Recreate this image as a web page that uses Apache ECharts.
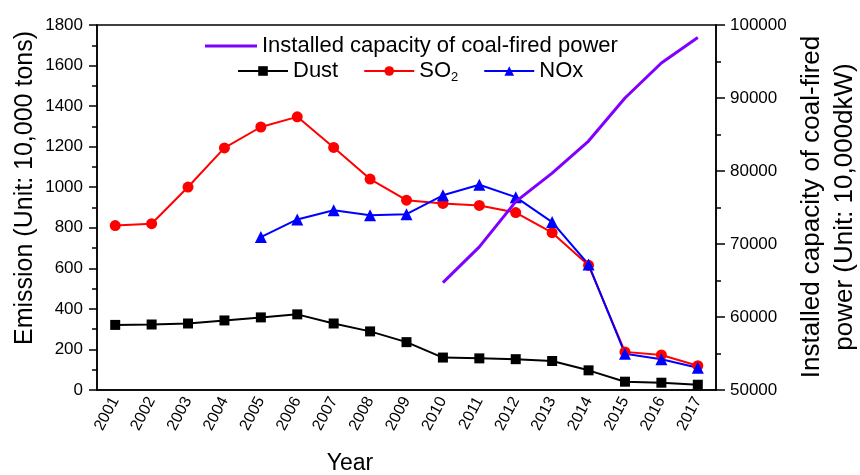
<!DOCTYPE html>
<html>
<head>
<meta charset="utf-8">
<script src="https://cdn.jsdelivr.net/npm/echarts@6/dist/echarts.min.js"></script>
<style>html,body{margin:0;padding:0;background:#fff}#c{width:860px;height:475px}</style>
</head>
<body>
<div id="c"></div>
<script>
const years = ['2001','2002','2003','2004','2005','2006','2007','2008','2009','2010','2011','2012','2013','2014','2015','2016','2017'];
const dust = [321, 323, 328, 343, 358, 373, 328, 289, 236, 160, 156, 152, 143, 97, 41, 36, 26];
const so2 = [811, 820, 1001, 1194, 1297, 1347, 1196, 1040, 936, 920, 910, 875, 776, 615, 188, 173, 120];
const nox = [null, null, null, null, 754, 841, 886, 862, 867, 960, 1012, 951, 828, 619, 179, 152, 110];
const capacity = [null, null, null, null, null, null, null, null, null, 64700, 69600, 75800, 79700, 84100, 90000, 94800, 98300];
const leftTicks = {min: 0, max: 1800, interval: 200};
const rightTicks = {min: 50000, max: 100000, interval: 10000};

const FONT = "'Liberation Sans', Arial, sans-serif";
const chart = echarts.init(document.getElementById('c'), null, {renderer: 'canvas'});
const axisLine = {show: true, lineStyle: {color: '#000', width: 1.5}};
const plain = function (v) { return String(v); };
chart.setOption({
  animation: false,
  backgroundColor: '#fff',
  textStyle: {fontFamily: FONT},
  grid: {left: 97, right: 144, top: 25, bottom: 85, show: true, borderColor: '#000', borderWidth: 1.5, backgroundColor: 'transparent'},
  legend: [
    {data: [{name: 'Installed capacity of coal-fired power', icon: 'rect'}], left: 200, top: 30, itemWidth: 52, itemHeight: 3,
     textStyle: {fontSize: 22, color: '#000', fontFamily: FONT}},
    {data: ['Dust', 'SO2', 'NOx'], left: 232, top: 55, itemGap: 25, itemWidth: 50, itemHeight: 12,
     formatter: function (n) { return n === 'SO2' ? 'SO{sub|2}' : n; },
     textStyle: {fontSize: 22, color: '#000', fontFamily: FONT,
       rich: {sub: {fontSize: 13, fontFamily: FONT, color: '#000', verticalAlign: 'bottom', padding: [12, 0, 0, 0]}}}}
  ],
  xAxis: {
    type: 'category', data: years, boundaryGap: true,
    axisLine: axisLine, axisTick: {show: false},
    axisLabel: {rotate: 62, fontSize: 16, color: '#000', margin: 8, fontFamily: FONT}
  },
  yAxis: [
    {type: 'value', min: leftTicks.min, max: leftTicks.max, interval: leftTicks.interval, position: 'left',
     axisLine: axisLine, axisTick: {show: true, length: 8, lineStyle: {color: '#000', width: 1.5}},
     minorTick: {show: true, splitNumber: 2, length: 5, lineStyle: {color: '#000', width: 1.5}},
     splitLine: {show: false},
     axisLabel: {fontSize: 17, color: '#000', margin: 14, fontFamily: FONT, formatter: plain}},
    {type: 'value', min: rightTicks.min, max: rightTicks.max, interval: rightTicks.interval, position: 'right',
     axisLine: axisLine, axisTick: {show: true, length: 9, lineStyle: {color: '#000', width: 1.5}},
     minorTick: {show: true, splitNumber: 2, length: 5, lineStyle: {color: '#000', width: 1.5}},
     splitLine: {show: false},
     axisLabel: {fontSize: 17, color: '#000', margin: 14, fontFamily: FONT, formatter: plain}}
  ],
  series: [
    {name: 'Installed capacity of coal-fired power', type: 'line', yAxisIndex: 1, data: capacity,
     showSymbol: false, symbol: 'none', lineStyle: {color: '#8000ff', width: 3}, itemStyle: {color: '#8000ff'}, z: 5},
    {name: 'Dust', type: 'line', data: dust, symbol: 'rect', symbolSize: 10,
     lineStyle: {color: '#000', width: 2}, itemStyle: {color: '#000'}},
    {name: 'SO2', type: 'line', data: so2, symbol: 'circle', symbolSize: 11,
     lineStyle: {color: '#ff0000', width: 2}, itemStyle: {color: '#ff0000'}},
    {name: 'NOx', type: 'line', data: nox, symbol: 'triangle', symbolSize: 12,
     lineStyle: {color: '#0000ff', width: 2}, itemStyle: {color: '#0000ff'}}
  ],
  graphic: [
    {type: 'text', x: 350, y: 464, style: {text: 'Year', font: '23px ' + FONT, fill: '#000', textAlign: 'center', textVerticalAlign: 'middle'}},
    {type: 'text', x: 25, y: 188, rotation: Math.PI / 2, style: {text: 'Emission (Unit: 10,000 tons)', font: '25px ' + FONT, fill: '#000', textAlign: 'center', textVerticalAlign: 'middle'}},
    {type: 'text', x: 828, y: 207, rotation: Math.PI / 2, style: {text: 'Installed capacity of coal-fired\npower (Unit: 10,000dkW)', font: '26px ' + FONT, lineHeight: 33, fill: '#000', textAlign: 'center', textVerticalAlign: 'middle'}}
  ]
});
</script>
</body>
</html>
